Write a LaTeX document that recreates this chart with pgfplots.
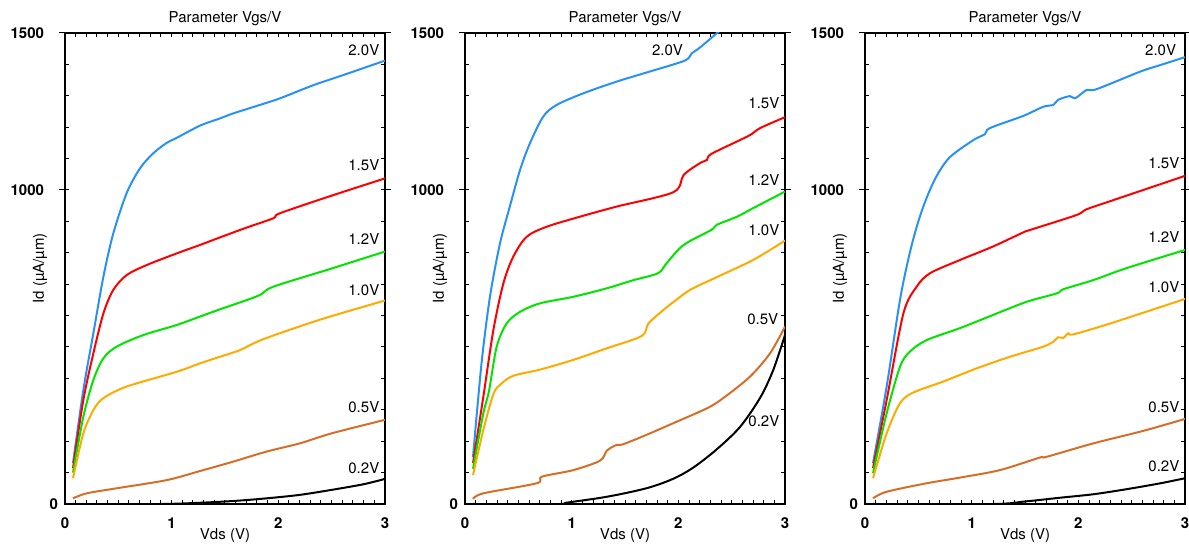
\documentclass[border=0pt]{standalone}
\usepackage{fontspec}
\setmainfont{TeX Gyre Heros}
\usepackage{pgfplots}
\pgfplotsset{compat=1.18}
\definecolor{cblue}{RGB}{40,145,245}
\definecolor{cred}{RGB}{255,0,0}
\definecolor{cgreen}{RGB}{0,228,0}
\definecolor{corange}{RGB}{255,170,0}
\definecolor{cbrown}{RGB}{212,110,40}
\newcommand{\fs}{\fontsize{7.5}{9}\selectfont}
\tikzset{lab/.style={anchor=east, inner sep=0pt, font=\fs}}
\pgfplotsset{
 every axis title shift=0pt,
 panel/.style={
  scale only axis, width=160pt, height=235.5pt,
  xmin=0,xmax=3,ymin=0,ymax=1500,
  clip=true,
  axis line style={line width=1pt},
  xtick={0,1,2,3}, minor x tick num=9,
  ytick={0,100,...,1500},
  yticklabels={0,,,,,,,,,,,,,,,},
  tick align=inside,
  major tick length=2pt, minor tick length=2pt,
  tick style={line width=0.5pt, black},
  extra y ticks={1000,1500},
  extra y tick labels={1000,1500},
  extra y tick style={tick align=outside, major tick length=3pt, yticklabel style={xshift=-4pt}},
  tick label style={font=\fs\bfseries},
  /pgf/number format/assume math mode=true,
  xticklabel style={yshift=-3.5pt},
  title style={font=\fs, at={(axis description cs:0.5,1)}, anchor=base, yshift=5.3pt},
  title={Parameter Vgs/V},
  xlabel={Vds (V)}, ylabel={Id (µA/µm)},
  xlabel style={font=\fs, at={(axis description cs:0.5,-0.0669)}, anchor=center},
  ylabel style={font=\fs, at={(axis description cs:-0.078,0.5)}, anchor=center},
  every axis plot/.append style={line width=1pt, line join=round, smooth, tension=0.5},
 },
}
\begin{document}
\begin{tikzpicture}
\useasboundingbox (0,0) rectangle (594.5pt,275pt);
% ---------------- Panel 1 ----------------
\begin{axis}[panel, at={(32.5pt,23pt)}, anchor=south west]
\addplot[cblue] coordinates {(0.075,130) (0.172,363) (0.266,544) (0.36,724) (0.453,862) (0.578,990) (0.703,1069) (0.828,1117) (0.953,1150) (1.047,1166) (1.266,1205) (1.453,1228) (1.578,1244) (1.8,1268) (2.016,1292) (2.33,1334) (2.6,1365) (3.0,1412)};
\addplot[cred] coordinates {(0.075,114) (0.172,331) (0.266,480) (0.36,607) (0.453,682) (0.578,729) (0.766,761) (1.047,798) (1.266,825) (1.453,849) (1.7,880) (1.953,910) (2.016,926) (2.5,982) (3.0,1037)};
\addplot[cgreen] coordinates {(0.075,100) (0.172,278) (0.266,395) (0.36,464) (0.484,501) (0.734,538) (1.047,570) (1.266,597) (1.453,620) (1.81,663) (1.953,692) (2.5,750) (3.0,804)};
\addplot[corange] coordinates {(0.075,82) (0.172,225) (0.266,299) (0.36,337) (0.578,374) (1.047,421) (1.266,448) (1.453,469) (1.64,490) (1.86,525) (2.4,588) (3.0,648)};
\addplot[cbrown] coordinates {(0.075,18) (0.203,34) (0.484,50) (0.953,76) (1.266,105) (1.578,135) (1.89,167) (2.2,193) (2.5,225) (3.0,268)};
\addplot[black] coordinates {(0.075,0) (0.9,0) (1.27,4) (1.6,10) (1.89,18) (2.2,29) (2.5,45) (2.8,63) (3.0,80)};
\node[lab] at (axis cs:2.95,1446) {2.0V};
\node[lab] at (axis cs:2.95,1080) {1.5V};
\node[lab] at (axis cs:2.95,844) {1.2V};
\node[lab] at (axis cs:2.95,682) {1.0V};
\node[lab] at (axis cs:2.95,310) {0.5V};
\node[lab] at (axis cs:2.95,115) {0.2V};
\end{axis}
% ---------------- Panel 2 ----------------
\begin{axis}[panel, at={(232.5pt,23pt)}, anchor=south west]
\addplot[cblue] coordinates {(0.075,150) (0.155,448) (0.234,660) (0.328,830) (0.42,947) (0.516,1064) (0.609,1149) (0.734,1234) (0.86,1271) (1.11,1308) (1.42,1345) (1.73,1377) (2.06,1412) (2.125,1435) (2.2,1453) (2.36,1499) (2.4,1510)};
\addplot[cred] coordinates {(0.075,130) (0.172,342) (0.266,554) (0.36,703) (0.453,788) (0.578,851) (0.766,883) (1.078,915) (1.42,947) (1.953,993) (2.05,1048) (2.2,1085) (2.27,1096) (2.31,1115) (2.656,1172) (2.766,1197) (3.0,1232)};
\addplot[cgreen] coordinates {(0.075,112) (0.172,289) (0.225,360) (0.297,501) (0.39,575) (0.516,612) (0.703,639) (1.016,660) (1.33,687) (1.58,713) (1.81,735) (1.89,767) (2.05,825) (2.31,873) (2.36,889) (2.55,915) (2.70,942) (3.0,995)};
\addplot[corange] coordinates {(0.075,92) (0.172,236) (0.266,350) (0.33,380) (0.45,408) (0.703,428) (1.016,459) (1.33,496) (1.656,535) (1.72,575) (1.86,618) (1.98,650) (2.11,682) (2.30,713) (2.70,777) (3.0,839)};
\addplot[cbrown] coordinates {(0.075,16) (0.172,34) (0.672,66) (0.72,87) (1.016,108) (1.266,138) (1.33,170) (1.42,188) (1.48,190) (1.70,220) (1.95,257) (2.27,305) (2.42,337) (2.67,405) (2.86,480) (3.0,565)};
\addplot[black] coordinates {(0.075,0) (0.9,0) (0.95,4) (1.33,23) (1.70,50) (1.95,80) (2.14,116) (2.36,174) (2.58,246) (2.77,340) (2.89,427) (3.0,538)};
\node[lab] at (axis cs:2.047,1446) {2.0V};
\node[lab] at (axis cs:2.95,1277) {1.5V};
\node[lab] at (axis cs:2.95,1032) {1.2V};
\node[lab] at (axis cs:2.95,873) {1.0V};
\node[lab] at (axis cs:2.94,589) {0.5V};
\node[lab] at (axis cs:2.95,264) {0.2V};
\end{axis}
% ---------------- Panel 3 ----------------
\begin{axis}[panel, at={(432.5pt,23pt)}, anchor=south west]
\addplot[cblue] coordinates {(0.075,130) (0.203,374) (0.328,650) (0.42,800) (0.5,900) (0.578,975) (0.672,1045) (0.797,1105) (1.016,1159) (1.125,1178) (1.17,1197) (1.484,1236) (1.67,1265) (1.766,1271) (1.81,1287) (1.92,1299) (1.97,1292) (2.08,1319) (2.17,1321) (2.58,1377) (2.77,1398) (3.0,1423)};
\addplot[cred] coordinates {(0.075,114) (0.203,331) (0.36,607) (0.484,692) (0.61,735) (0.89,777) (1.2,820) (1.484,865) (1.55,873) (1.98,920) (2.08,939) (2.33,968) (3.0,1045)};
\addplot[cgreen] coordinates {(0.075,98) (0.203,289) (0.328,437) (0.42,485) (0.578,522) (0.89,560) (1.2,602) (1.516,644) (1.80,671) (1.86,684) (2.14,713) (2.45,751) (3.0,809)};
\addplot[corange] coordinates {(0.075,82) (0.203,225) (0.328,321) (0.453,355) (0.734,390) (1.047,432) (1.36,469) (1.67,501) (1.766,517) (1.81,531) (1.86,529) (1.906,544) (1.95,540) (2.30,575) (3.0,653)};
\addplot[cbrown] coordinates {(0.075,18) (0.203,39) (0.578,66) (0.89,84) (1.266,108) (1.64,148) (1.70,150) (2.14,193) (2.61,233) (3.0,271)};
\addplot[black] coordinates {(0.075,0) (1.2,0) (1.5,8) (1.83,20) (2.14,31) (2.45,47) (2.77,66) (3.0,82)};
\node[lab] at (axis cs:2.92,1446) {2.0V};
\node[lab] at (axis cs:2.95,1086) {1.5V};
\node[lab] at (axis cs:2.95,851) {1.2V};
\node[lab] at (axis cs:2.95,692) {1.0V};
\node[lab] at (axis cs:2.95,310) {0.5V};
\node[lab] at (axis cs:2.95,119) {0.2V};
\end{axis}
\end{tikzpicture}
\end{document}
